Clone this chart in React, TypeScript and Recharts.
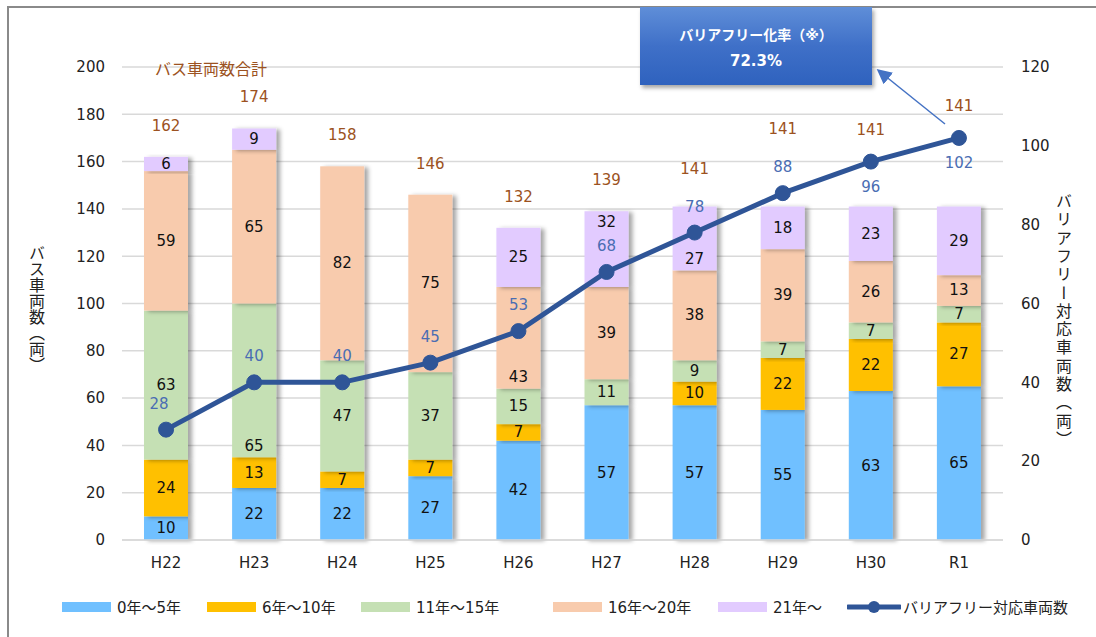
import React from "react";
import {
  ComposedChart,
  Bar,
  Line,
  XAxis,
  YAxis,
  CartesianGrid,
  LabelList,
} from "recharts";

const years = ["H22", "H23", "H24", "H25", "H26", "H27", "H28", "H29", "H30", "R1"];
const age0to5 = [10, 22, 22, 27, 42, 57, 57, 55, 63, 65];
const age6to10 = [24, 13, 7, 7, 7, 0, 10, 22, 22, 27];
const age11to15 = [63, 65, 47, 37, 15, 11, 9, 7, 7, 7];
const age16to20 = [59, 65, 82, 75, 43, 39, 38, 39, 26, 13];
const age21plus = [6, 9, 0, 0, 25, 32, 27, 18, 23, 29];
const barrierFree = [28, 40, 40, 45, 53, 68, 78, 88, 96, 102];

const leftTicks = [0, 20, 40, 60, 80, 100, 120, 140, 160, 180, 200];
const rightTicks = [0, 20, 40, 60, 80, 100, 120];
const RIGHT_MAX = 120;

// years whose line label sits under the point
const lineLabelBelow = new Set(["H30", "R1"]);

const FONT = '"DejaVu Sans", "Noto Sans CJK JP", sans-serif';
const BROWN = "#9C5221";
const LINE_BLUE = "#2F5597";
const LABEL_BLUE = "#4A6DB3";

const PLOT_TOP = 67;
const PLOT_BOTTOM = 540;

const series = [
  { key: "a", name: "0年～5年", color: "#70C0FF", values: age0to5 },
  { key: "b", name: "6年～10年", color: "#FFC000", values: age6to10 },
  { key: "c", name: "11年～15年", color: "#C5E0B4", values: age11to15 },
  { key: "d", name: "16年～20年", color: "#F8CBAD", values: age16to20 },
  { key: "e", name: "21年～", color: "#E2CBFF", values: age21plus },
];

const data = years.map((year, i) => ({
  year,
  a: age0to5[i],
  b: age6to10[i],
  c: age11to15[i],
  d: age16to20[i],
  e: age21plus[i],
  bf: barrierFree[i],
  total: series.reduce((s, sr) => s + sr.values[i], 0),
}));

// pixel y of the line point / its label, from the right axis range
const linePointY = (i: number) =>
  PLOT_BOTTOM - (barrierFree[i] / RIGHT_MAX) * (PLOT_BOTTOM - PLOT_TOP);
const lineLabelY = (i: number) => linePointY(i) + (lineLabelBelow.has(years[i]) ? 25 : -26);

const BarShape = (props: any) => {
  const { x, y, width, height, fill } = props;
  if (!height || height <= 0) return null;
  return <rect x={x} y={y} width={width} height={height} fill={fill} filter="url(#barShadow)" />;
};

// segment label: centred, but slid inside the segment when the line is in the way
const SegmentLabel = (props: any) => {
  const vb = props.viewBox || props;
  const { x, y, width, height } = vb;
  const { value, index } = props;
  if (!value) return null;
  const ly = linePointY(index);
  const lt = lineLabelY(index);
  const score = (c: number) => Math.min(Math.abs(c - ly) / 16, Math.abs(c - lt) / 18);
  let cy = y + height / 2;
  if (score(cy) < 1 && height > 24) {
    let best = cy;
    for (let c = y + 11; c <= y + height - 11; c += 1) {
      if (score(c) > score(best)) best = c;
    }
    cy = best;
  }
  return (
    <text
      x={x + width / 2}
      y={cy}
      textAnchor="middle"
      dominantBaseline="central"
      fill="#111"
      fontSize={15}
      fontFamily={FONT}
    >
      {value}
    </text>
  );
};

const TotalLabel = (props: any) => {
  const { x, y, value, index } = props;
  const below = lineLabelBelow.has(years[index]);
  const clear = below ? linePointY(index) - 32 : lineLabelY(index) - 38;
  return (
    <text
      x={x}
      y={Math.min(y - 31, clear)}
      textAnchor="middle"
      dominantBaseline="central"
      fill={BROWN}
      fontSize={15}
      fontFamily={FONT}
    >
      {value}
    </text>
  );
};

const LineLabel = (props: any) => {
  const { x, y, value, index } = props;
  const below = lineLabelBelow.has(years[index]);
  return (
    <text
      x={x + (index === 0 ? -7 : 0)}
      y={y + (below ? 25 : -26)}
      textAnchor="middle"
      dominantBaseline="central"
      fill={LABEL_BLUE}
      fontSize={15}
      fontFamily={FONT}
    >
      {value}
    </text>
  );
};

const legendPos = [62, 207, 361, 553, 718];

export default function App() {
  return (
    <div style={{ position: "relative", width: 1096, height: 637, fontFamily: FONT, background: "#fff" }}>
      <style>{`body{margin:0;overflow:hidden;}`}</style>
      <div
        style={{
          position: "absolute",
          left: 7,
          top: 6,
          width: 1100,
          height: 640,
          borderLeft: "2px solid #8a8a8a",
          borderTop: "2px solid #8a8a8a",
        }}
      />
      <div style={{ position: "absolute", left: 0, top: 0 }}>
        <ComposedChart
          width={1096}
          height={637}
          data={data}
          margin={{ top: PLOT_TOP, right: 33, bottom: 57, left: 62 }}
        >
          <defs>
            <filter id="barShadow" x="-20%" y="-20%" width="150%" height="140%">
              <feDropShadow dx="4" dy="1" stdDeviation="2" floodColor="#000" floodOpacity="0.35" />
            </filter>
          </defs>
          <CartesianGrid yAxisId="left" vertical={false} stroke="#D9D9D9" strokeWidth={1.5} />
          <XAxis
            dataKey="year"
            height={40}
            tickSize={0}
            tickMargin={17}
            axisLine={{ stroke: "#D9D9D9", strokeWidth: 1.5 }}
            tick={{ fill: "#222", fontSize: 15, fontFamily: FONT }}
          />
          <YAxis
            yAxisId="left"
            width={60}
            domain={[0, 200]}
            ticks={leftTicks}
            tickSize={0}
            tickMargin={17}
            axisLine={false}
            tick={{ fill: "#222", fontSize: 15, fontFamily: FONT }}
          />
          <YAxis
            yAxisId="right"
            orientation="right"
            width={60}
            domain={[0, RIGHT_MAX]}
            ticks={rightTicks}
            tickSize={0}
            tickMargin={18}
            axisLine={false}
            tick={{ fill: "#222", fontSize: 15, fontFamily: FONT, textAnchor: "start" }}
          />
          {series.map((s) => (
            <Bar
              key={s.key}
              yAxisId="left"
              dataKey={s.key}
              name={s.name}
              stackId="bus"
              fill={s.color}
              barSize={44}
              shape={BarShape}
              isAnimationActive={false}
            >
              <LabelList dataKey={s.key} content={SegmentLabel} />
            </Bar>
          ))}
          <Line
            yAxisId="left"
            dataKey="total"
            stroke="none"
            dot={false}
            activeDot={false}
            legendType="none"
            isAnimationActive={false}
          >
            <LabelList dataKey="total" content={TotalLabel} />
          </Line>
          <Line
            yAxisId="right"
            dataKey="bf"
            name="バリアフリー対応車両数"
            stroke={LINE_BLUE}
            strokeWidth={5}
            dot={{ r: 7.5, fill: LINE_BLUE, stroke: LINE_BLUE, strokeWidth: 1 }}
            activeDot={false}
            isAnimationActive={false}
          >
            <LabelList dataKey="bf" content={LineLabel} />
          </Line>
        </ComposedChart>
      </div>

      <div style={{ position: "absolute", left: 155, top: 56, fontSize: 16, color: BROWN, whiteSpace: "nowrap" }}>
        バス車両数合計
      </div>

      <div
        style={{
          position: "absolute",
          left: 26,
          top: 245,
          writingMode: "vertical-rl",
          fontSize: 16,
          color: "#222",
          lineHeight: "18px",
        }}
      >
        バス車両数（両）
      </div>
      <div
        style={{
          position: "absolute",
          left: 1053,
          top: 193,
          writingMode: "vertical-rl",
          fontSize: 16,
          color: "#222",
          lineHeight: "18px",
          letterSpacing: "2.3px",
        }}
      >
        バリアフリー対応車両数（両）
      </div>

      <div
        style={{
          position: "absolute",
          left: 640,
          top: 7,
          width: 232,
          height: 78,
          background: "linear-gradient(180deg, #5F8ED8 0%, #3F70C8 50%, #2F62BE 100%)",
          boxShadow: "2px 3px 4px rgba(0,0,0,0.35)",
          color: "#fff",
          fontWeight: "bold",
          textAlign: "center",
        }}
      >
        <div style={{ marginTop: 17, fontSize: 14 }}>バリアフリー化率（※）</div>
        <div style={{ marginTop: 8, fontSize: 15 }}>72.3%</div>
      </div>
      <svg style={{ position: "absolute", left: 0, top: 0 }} width={1096} height={637} pointerEvents="none">
        <defs>
          <marker id="arrowHead" markerWidth="10" markerHeight="10" refX="8" refY="5" orient="auto">
            <path d="M0,0 L10,5 L0,10 z" fill="#4472C4" />
          </marker>
        </defs>
        <line x1={945} y1={124} x2={879} y2={71} stroke="#4472C4" strokeWidth={1.5} markerEnd="url(#arrowHead)" />
      </svg>

      {series.map((s, i) => (
        <div
          key={s.key}
          style={{ position: "absolute", left: legendPos[i], top: 596, display: "flex", alignItems: "center", fontSize: 15, color: "#222", whiteSpace: "nowrap" }}
        >
          <span style={{ display: "inline-block", width: 49, height: 10, background: s.color, marginRight: 6 }} />
          {s.name}
        </div>
      ))}
      <div
        style={{ position: "absolute", left: 847, top: 596, display: "flex", alignItems: "center", fontSize: 15, color: "#222", whiteSpace: "nowrap" }}
      >
        <svg width={54} height={20} style={{ marginRight: 2 }}>
          <line x1={1} y1={10} x2={53} y2={10} stroke={LINE_BLUE} strokeWidth={5} strokeLinecap="round" />
          <circle cx={27} cy={10} r={6} fill={LINE_BLUE} />
        </svg>
        バリアフリー対応車両数
      </div>
    </div>
  );
}
